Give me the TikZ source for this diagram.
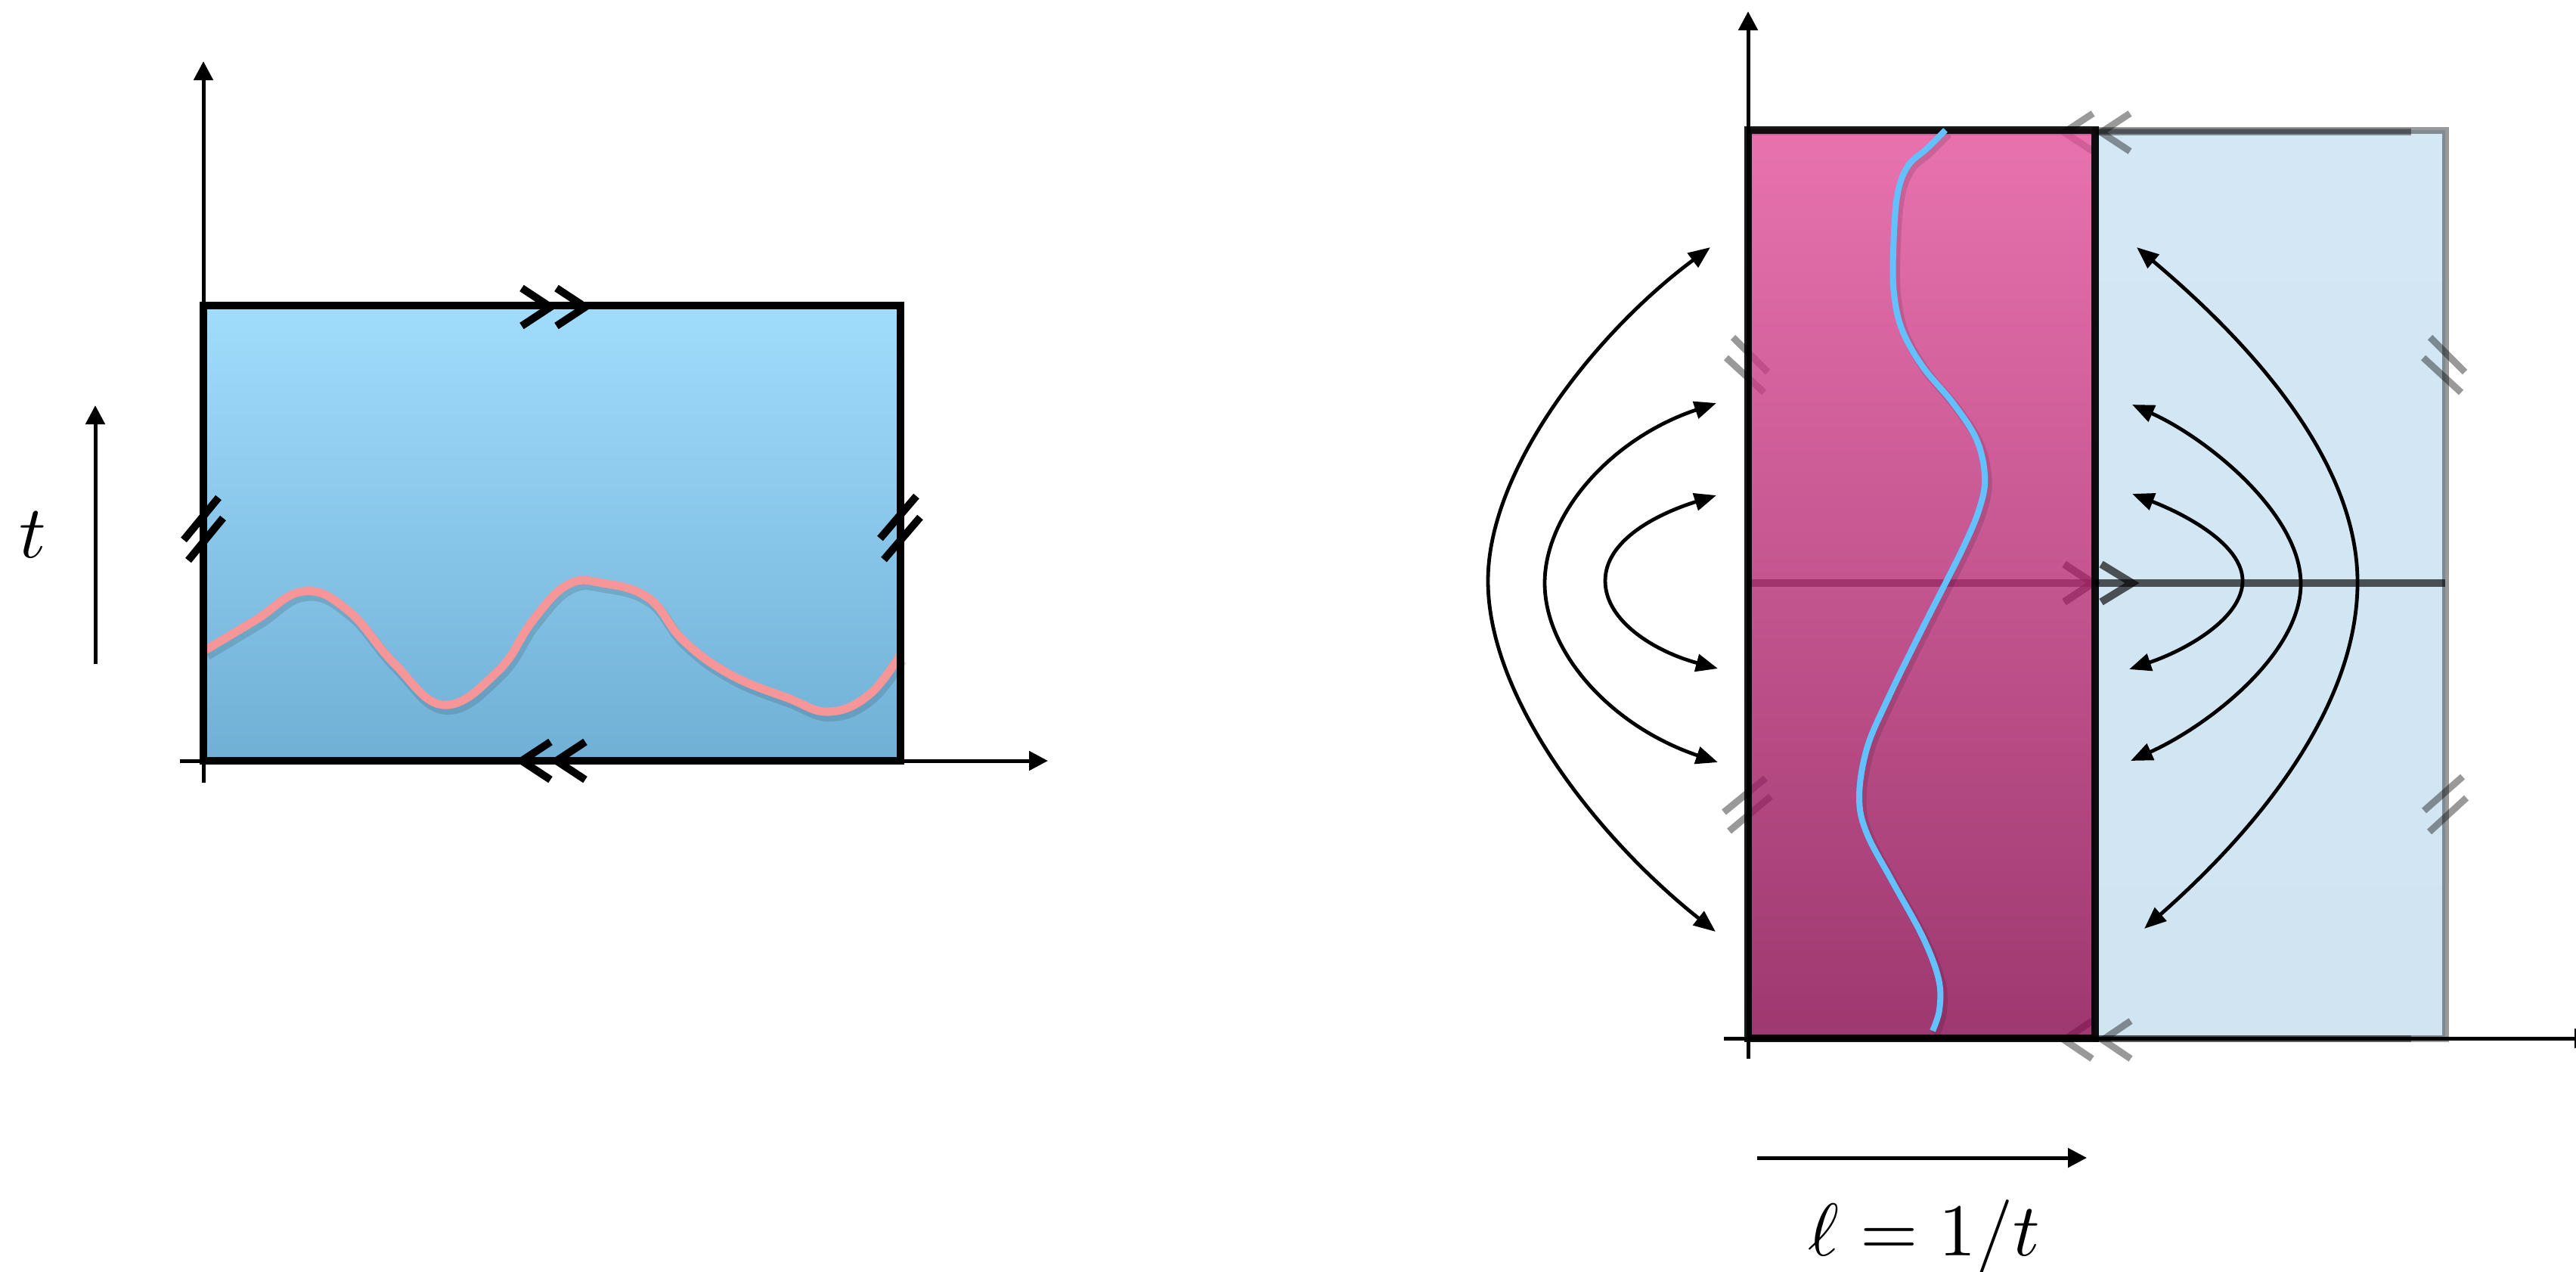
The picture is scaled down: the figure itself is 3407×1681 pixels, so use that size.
\documentclass[tikz,border=0pt]{standalone}
\usepackage{graphicx}
\usetikzlibrary{arrows.meta}
\definecolor{lbtop}{RGB}{161,220,252}
\definecolor{lbbot}{RGB}{112,176,214}
\definecolor{pinkcurve}{RGB}{247,150,152}
\definecolor{pktop}{RGB}{226,79,154}
\definecolor{pkbot}{RGB}{134,6,76}
\definecolor{bltop}{RGB}{212,231,244}
\definecolor{blmid}{RGB}{224,242,253}
\definecolor{blbot}{RGB}{209,228,241}
\definecolor{bluecurve}{RGB}{99,193,255}
\begin{document}
\begin{tikzpicture}[x=0.01cm,y=-0.01cm,
  axis/.style={line width=0.05cm,-{Triangle[length=0.25cm,width=0.25cm]}},
  border/.style={line width=0.095cm},
  chev/.style={line width=0.1cm,miter limit=10},
  tickmark/.style={line width=0.1cm},
  flow/.style={line width=0.048cm,{Triangle[length=0.29cm,width=0.23cm]}-{Triangle[length=0.29cm,width=0.23cm]}},
  faint/.style={line width=0.09cm,draw=black,draw opacity=0.4},
  lbl/.style={inner sep=0pt}
]
\useasboundingbox (0,0) rectangle (3407,1681);

% ---------------- left panel ----------------
\coordinate (LBL) at (269,1006);
\coordinate (LTR) at (1191,404);
\shade[top color=lbtop,bottom color=lbbot] (LBL) rectangle (LTR);
\draw[line width=0.14cm,black,opacity=0.12,shift={(3,6)}] plot[smooth,tension=0.7] coordinates {(271,860) (338,820) (401,782) (460,807) (522,878) (587,932) (659,887) (705,820) (751,773) (797,771) (858,791) (904,847) (966,892) (1042,923) (1096,941) (1149,919) (1190,867)};
\draw[line width=0.11cm,pinkcurve] plot[smooth,tension=0.7] coordinates {(271,860) (338,820) (401,782) (460,807) (522,878) (587,932) (659,887) (705,820) (751,773) (797,771) (858,791) (904,847) (966,892) (1042,923) (1096,941) (1149,919) (1190,867)};
\draw[border] (LBL) rectangle (LTR);
% identification marks
\draw[chev] (690,381) -- (728,406) -- (690,431);
\draw[chev] (736,381) -- (774,406) -- (736,431);
\draw[chev] (728,981) -- (690,1006) -- (728,1031);
\draw[chev] (774,981) -- (736,1006) -- (774,1031);
\draw[tickmark] (243,714) -- (289,658);
\draw[tickmark] (249,741) -- (295,685);
\draw[tickmark] (1164,712) -- (1212,656);
\draw[tickmark] (1169,740) -- (1217,684);
% axes
\coordinate (LXa) at (238,1006);
\coordinate (LXb) at (1386,1006);
\coordinate (LYa) at (269,1035);
\coordinate (LYb) at (269,81);
\draw[axis] (LXa) -- (LXb);
\draw[axis] (LYa) -- (LYb);
% t arrow
\coordinate (Ta) at (126,878);
\coordinate (Tb) at (126,536);
\draw[axis] (Ta) -- (Tb);
\node[lbl] (tlab) at (43,707) {\scalebox{2.8}{$t$}};

% ---------------- right panel ----------------
\coordinate (PBL) at (2312,1373);
\coordinate (PTR) at (2771,172);
\coordinate (BTR) at (3234,172);
\shade[top color=bltop,middle color=blmid,bottom color=blbot] (2771,1373) rectangle (BTR);
% faint structure (lies under the pink strip)
\draw[line width=0.1cm,black,opacity=0.65] (2312,771) -- (3234,771);
\draw[chev,black,opacity=0.65] (2730,746) -- (2768,771) -- (2730,796);
\draw[chev,black,opacity=0.65] (2779,746) -- (2820,771) -- (2779,796);
\draw[faint] (2771,1373) rectangle (BTR);
\draw[faint] (2312,174) -- (3189,174);
\draw[faint] (2312,1373) -- (3189,1373);
\draw[faint] (2768,150) -- (2730,175) -- (2768,200);
\draw[faint] (2817,150) -- (2779,175) -- (2817,200);
\draw[faint] (2767,1350) -- (2730,1375) -- (2767,1400);
\draw[faint] (2818,1350) -- (2781,1375) -- (2818,1400);
\draw[faint] (2292,446) -- (2338,492);
\draw[faint] (2283,473) -- (2333,519);
\draw[faint] (2280,1074) -- (2335,1029);
\draw[faint] (2287,1099) -- (2342,1053);
\draw[faint] (3214,446) -- (3260,492);
\draw[faint] (3205,473) -- (3255,519);
\draw[faint] (3206,1072) -- (3257,1027);
\draw[faint] (3213,1100) -- (3262,1055);
% pink strip
\shade[top color=pktop,bottom color=pkbot,fill opacity=0.8] (PBL) rectangle (PTR);
\draw[border,black,opacity=0.9] (PBL) rectangle (PTR);
% blue curve
\draw[line width=0.11cm,black,opacity=0.12,shift={(4,5)}] plot[smooth,tension=0.6] coordinates {(2573,172) (2549,196) (2523,220) (2509,260) (2504,332) (2505,389) (2516,437) (2543,485) (2583,533) (2614,581) (2625,629) (2619,669) (2596,725) (2539,838) (2496,926) (2469,990) (2459,1054) (2469,1102) (2503,1166) (2543,1239) (2564,1295) (2565,1335) (2556,1363)};
\draw[line width=0.08cm,bluecurve] plot[smooth,tension=0.6] coordinates {(2573,172) (2549,196) (2523,220) (2509,260) (2504,332) (2505,389) (2516,437) (2543,485) (2583,533) (2614,581) (2625,629) (2619,669) (2596,725) (2539,838) (2496,926) (2469,990) (2459,1054) (2469,1102) (2503,1166) (2543,1239) (2564,1295) (2565,1335) (2556,1363)};
% axes
\coordinate (RXa) at (2280,1373);
\coordinate (RXb) at (3430,1373);
\coordinate (RYa) at (2312,1400);
\coordinate (RYb) at (2312,15);
\draw[axis] (RXa) -- (RXb);
\draw[axis] (RYa) -- (RYb);
% flow arrows, left
\draw[flow] (2269,1232) .. controls (2115,1110) and (1968,925) .. (1968,768) .. controls (1968,620) and (2110,440) .. (2262,327);
\draw[flow] (2272,1008) .. controls (2130,960) and (2043,862) .. (2043,771) .. controls (2043,680) and (2130,580) .. (2270,533);
\draw[flow] (2272,884) .. controls (2190,862) and (2123,822) .. (2123,768) .. controls (2123,715) and (2190,680) .. (2270,655);
% flow arrows, right
\draw[flow] (2836,1228) .. controls (2970,1110) and (3118,945) .. (3118,770) .. controls (3118,600) and (2960,440) .. (2826,327);
\draw[flow] (2818,1006) .. controls (2920,960) and (3043,865) .. (3043,772) .. controls (3043,680) and (2920,580) .. (2820,535);
\draw[flow] (2816,885) .. controls (2890,860) and (2966,818) .. (2966,768) .. controls (2966,720) and (2890,680) .. (2820,653);
% ell arrow and label
\coordinate (La) at (2324,1531);
\coordinate (Lb) at (2760,1531);
\draw[axis] (La) -- (Lb);
\node[lbl,anchor=base] (ellab) at (2545,1660) {\scalebox{2.8}{$\ell = 1/t$}};
\end{tikzpicture}
\end{document}
